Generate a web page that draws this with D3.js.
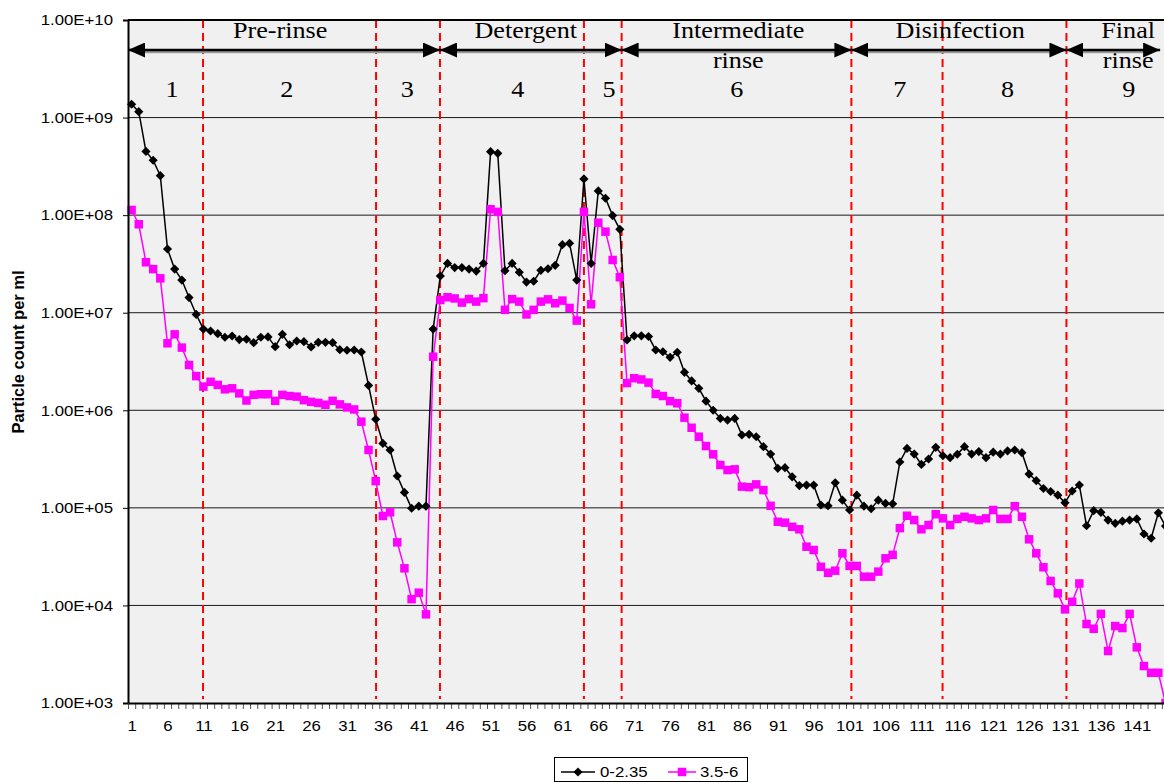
<!DOCTYPE html>
<html>
<head>
<meta charset="utf-8">
<script src="https://cdn.jsdelivr.net/npm/d3@7"></script>
<style>
  html, body { margin: 0; padding: 0; background: #ffffff; }
  svg { display: block; }
</style>
</head>
<body>
<svg id="chart" width="1164" height="782"></svg>
<script>
// Particle counts per ml for each sample, two particle-size channels.
const fineCounts = [ // 0-2.35
  1.37e9, 1.15e9, 4.5e8, 3.65e8, 2.54e8, 4.5e7, 2.8e7, 2.16e7, 1.43e7, 9.6e6,
  6.8e6, 6.5e6, 6.1e6, 5.6e6, 5.77e6, 5.3e6, 5.35e6, 4.93e6, 5.6e6, 5.65e6,
  4.49e6, 6.0e6, 4.7e6, 5.13e6, 5.05e6, 4.46e6, 4.97e6, 4.97e6, 4.93e6, 4.18e6,
  4.12e6, 4.15e6, 3.96e6, 1.8e6, 8.1e5, 4.58e5, 3.92e5, 2.12e5, 1.44e5, 9.9e4,
  1.04e5, 1.04e5, 6.8e6, 2.38e7, 3.2e7, 2.9e7, 2.9e7, 2.8e7, 2.67e7, 3.2e7,
  4.47e8, 4.3e8, 2.7e7, 3.2e7, 2.6e7, 2.06e7, 2.1e7, 2.72e7, 2.82e7, 3.06e7,
  4.98e7, 5.14e7, 2.16e7, 2.35e8, 3.2e7, 1.77e8, 1.49e8, 9.9e7, 7.16e7, 5.25e6,
  5.8e6, 5.8e6, 5.7e6, 4.15e6, 3.98e6, 3.49e6, 3.93e6, 2.45e6, 2.0e6, 1.68e6,
  1.24e6, 1.0e6, 8.26e5, 7.94e5, 8.26e5, 5.58e5, 5.67e5, 5.36e5, 4.24e5, 3.56e5,
  2.54e5, 2.58e5, 2.08e5, 1.69e5, 1.71e5, 1.71e5, 1.07e5, 1.05e5, 1.81e5, 1.2e5,
  9.5e4, 1.35e5, 1.04e5, 9.8e4, 1.2e5, 1.11e5, 1.1e5, 2.95e5, 4.07e5, 3.56e5,
  2.79e5, 3.17e5, 4.17e5, 3.42e5, 3.27e5, 3.54e5, 4.24e5, 3.56e5, 3.77e5, 3.27e5,
  3.72e5, 3.56e5, 3.83e5, 3.92e5, 3.68e5, 2.22e5, 1.9e5, 1.58e5, 1.47e5, 1.35e5,
  1.13e5, 1.49e5, 1.71e5, 6.56e4, 9.35e4, 9.0e4, 7.5e4, 6.94e4, 7.3e4, 7.5e4,
  7.7e4, 5.4e4, 4.88e4, 8.9e4, 6.5e4
];
const coarseCounts = [ // 3.5-6
  1.13e8, 8.06e7, 3.29e7, 2.8e7, 2.25e7, 4.86e6, 6.0e6, 4.39e6, 2.91e6, 2.24e6,
  1.75e6, 1.96e6, 1.82e6, 1.64e6, 1.68e6, 1.49e6, 1.26e6, 1.44e6, 1.46e6, 1.46e6,
  1.25e6, 1.44e6, 1.4e6, 1.38e6, 1.27e6, 1.22e6, 1.19e6, 1.14e6, 1.25e6, 1.15e6,
  1.07e6, 1.02e6, 7.64e5, 3.92e5, 1.88e5, 8.25e4, 9.0e4, 4.43e4, 2.4e4, 1.16e4,
  1.35e4, 8.1e3, 3.54e6, 1.35e7, 1.44e7, 1.4e7, 1.27e7, 1.38e7, 1.3e7, 1.41e7,
  1.15e8, 1.08e8, 1.07e7, 1.38e7, 1.3e7, 9.6e6, 1.07e7, 1.3e7, 1.37e7, 1.25e7,
  1.33e7, 1.12e7, 8.3e6, 1.08e8, 1.22e7, 8.37e7, 6.77e7, 3.47e7, 2.31e7, 1.9e6,
  2.13e6, 2.07e6, 1.92e6, 1.47e6, 1.4e6, 1.24e6, 1.18e6, 8.4e5, 6.62e5, 5.36e5,
  4.3e5, 3.54e5, 2.75e5, 2.44e5, 2.48e5, 1.65e5, 1.63e5, 1.74e5, 1.52e5, 1.05e5,
  7.2e4, 7.05e4, 6.4e4, 6.03e4, 4.0e4, 3.7e4, 2.49e4, 2.16e4, 2.27e4, 3.42e4,
  2.54e4, 2.54e4, 1.97e4, 1.97e4, 2.22e4, 3.04e4, 3.3e4, 6.2e4, 8.3e4, 7.5e4,
  6.03e4, 6.67e4, 8.6e4, 7.8e4, 6.67e4, 7.7e4, 8.1e4, 7.8e4, 7.5e4, 7.8e4,
  9.5e4, 7.7e4, 7.7e4, 1.04e5, 8.1e4, 4.76e4, 3.42e4, 2.46e4, 1.78e4, 1.33e4,
  9.1e3, 1.09e4, 1.68e4, 6.45e3, 5.77e3, 8.2e3, 3.41e3, 6.15e3, 5.86e3, 8.2e3,
  3.72e3, 2.39e3, 2.04e3, 2.04e3, 1.0e3
];
const seriesNames = ["0-2.35", "3.5-6"];

// Axis ticks
const yTickValues = [1e3, 1e4, 1e5, 1e6, 1e7, 1e8, 1e9, 1e10];
const xTickLabels = d3.range(1, 142, 5);

// Cleaning-cycle stages, positions given in sample numbers
const stageBoundaries = [10.95, 35.05, 43.95, 64.0, 69.25, 101.25, 113.95, 131.2];
const phaseNames = [["Pre-rinse"], ["Detergent"], ["Intermediate", "rinse"], ["Disinfection"], ["Final", "rinse"]];
const phaseSpans = [[0.5, 43.95], [43.95, 69.25], [69.25, 101.25], [101.25, 131.2], [131.2, 144.25]];
const phaseLabelAt = [21.7, 55.9, 85.5, 116.4, 139.8];
const stageNumbers = ["1", "2", "3", "4", "5", "6", "7", "8", "9"];
const stageNumberAt = [6.63, 22.6, 39.4, 54.8, 67.5, 85.3, 108.0, 123.0, 139.9];

// ---------------------------------------------------------------
const SANS = "'Liberation Sans', Arial, sans-serif";
const SERIF = "'Liberation Serif', 'Times New Roman', serif";
const W = 1164;
const plot = { left: 128, top: 20, bottom: 703, right: W };

const svg = d3.select("#chart");

const x = d3.scaleLinear()
  .domain([0.5, 0.5 + (plot.right - plot.left) / 7.18])
  .range([plot.left, plot.right]);
const y = d3.scaleLog().domain([1e3, 1e10]).range([plot.bottom, plot.top]);

// widen glyphs a little around their anchor point
function widen(sel, sx) {
  sel.attr("transform", function () {
    const ax = +(this.getAttribute("x") || 0);
    const ay = +(this.getAttribute("y") || 0);
    return `translate(${ax},${ay}) scale(${sx},1) translate(${-ax},${-ay})`;
  });
}

// plot area
svg.append("rect")
  .attr("x", plot.left).attr("y", plot.top)
  .attr("width", plot.right - plot.left).attr("height", plot.bottom - plot.top)
  .attr("fill", "#f0f0f0");

// horizontal gridlines
svg.append("g").selectAll("line")
  .data(yTickValues.slice(1, -1))
  .join("line")
  .attr("x1", plot.left).attr("x2", plot.right)
  .attr("y1", d => y(d)).attr("y2", d => y(d))
  .attr("stroke", "#1a1a1a").attr("stroke-width", 1);

// stage boundaries
svg.append("g").selectAll("line")
  .data(stageBoundaries)
  .join("line")
  .attr("x1", d => x(d)).attr("x2", d => x(d))
  .attr("y1", plot.top).attr("y2", plot.bottom - 4)
  .attr("stroke", "#ff0000").attr("stroke-width", 2)
  .attr("stroke-dasharray", "8,5");

// data
svg.append("clipPath").attr("id", "plotClip")
  .append("rect")
  .attr("x", plot.left - 1).attr("y", plot.top)
  .attr("width", plot.right - plot.left + 1).attr("height", plot.bottom - plot.top);

const dataLayer = svg.append("g").attr("clip-path", "url(#plotClip)");
const line = d3.line().x((d, i) => x(i + 1)).y(d => y(d));

const series = [
  { name: seriesNames[0], values: fineCounts, color: "#000000", symbol: d3.symbolSquare, size: 42, rotate: 45 },
  { name: seriesNames[1], values: coarseCounts, color: "#ff00ff", symbol: d3.symbolSquare, size: 72, rotate: 0 }
];

series.forEach(s => {
  dataLayer.append("path")
    .datum(s.values)
    .attr("d", line)
    .attr("fill", "none")
    .attr("stroke", s.color)
    .attr("stroke-width", 1.5);
});
series.forEach(s => {
  const shape = d3.symbol().type(s.symbol).size(s.size)();
  dataLayer.append("g").selectAll("path")
    .data(s.values)
    .join("path")
    .attr("d", shape)
    .attr("transform", (d, i) => `translate(${x(i + 1)},${y(d)}) rotate(${s.rotate})`)
    .attr("fill", s.color);
});

// frame line along the top
svg.append("line").attr("x1", plot.left).attr("x2", plot.right)
  .attr("y1", plot.top).attr("y2", plot.top)
  .attr("stroke", "#000").attr("stroke-width", 2);

// y axis
const yAxis = svg.append("g")
  .attr("transform", `translate(${plot.left},0)`)
  .call(d3.axisLeft(y)
    .tickValues(yTickValues)
    .tickSize(5)
    .tickPadding(10)
    .tickFormat(d => "1.00E+" + String(Math.round(Math.log10(d))).padStart(2, "0")));
yAxis.select(".domain").attr("stroke", "#000").attr("stroke-width", 2);
yAxis.selectAll(".tick line").attr("stroke", "#000");
yAxis.selectAll("text")
  .attr("font-family", SANS).attr("font-size", 15).attr("fill", "#000")
  .call(widen, 1.12);

// x axis: minor ticks at sample boundaries
const xMinor = svg.append("g")
  .attr("transform", `translate(0,${plot.bottom})`)
  .call(d3.axisBottom(x)
    .tickValues(d3.range(0.5, 145, 1))
    .tickSize(6)
    .tickFormat(""));
xMinor.select(".domain").remove();
xMinor.selectAll(".tick line").attr("stroke", "#555");

// x axis: labels every fifth sample
const xAxis = svg.append("g")
  .attr("transform", `translate(0,${plot.bottom})`)
  .call(d3.axisBottom(x)
    .tickValues(xTickLabels)
    .tickSize(0)
    .tickPadding(17)
    .tickFormat(d3.format("d")));
xAxis.select(".domain")
  .attr("stroke", "#000").attr("stroke-width", 2);
xAxis.selectAll("text")
  .attr("font-family", SANS).attr("font-size", 15).attr("fill", "#000")
  .call(widen, 1.12);

// y axis title
svg.append("text")
  .attr("transform", `translate(24,352) rotate(-90)`)
  .attr("text-anchor", "middle")
  .attr("font-family", SANS).attr("font-weight", "bold").attr("font-size", 16.5)
  .text("Particle count per ml");

// phase arrows
const defs = svg.append("defs");
defs.append("marker")
  .attr("id", "head")
  .attr("viewBox", "0 0 17 15")
  .attr("refX", 17).attr("refY", 7.5)
  .attr("markerWidth", 17).attr("markerHeight", 15)
  .attr("markerUnits", "userSpaceOnUse")
  .attr("orient", "auto-start-reverse")
  .append("path").attr("d", "M0,0 L17,7.5 L0,15 Z").attr("fill", "#000");

const arrowY = 50;
const arrows = svg.append("g");
arrows.selectAll("line.shadow")
  .data(phaseSpans)
  .join("line")
  .attr("class", "shadow")
  .attr("x1", d => x(d[0]) + 8).attr("x2", d => x(d[1]) - 8)
  .attr("y1", arrowY + 2).attr("y2", arrowY + 2)
  .attr("stroke", "#9a9a9a").attr("stroke-width", 2.5);
arrows.selectAll("line.shaft")
  .data(phaseSpans)
  .join("line")
  .attr("class", "shaft")
  .attr("x1", d => x(d[0])).attr("x2", d => x(d[1]))
  .attr("y1", arrowY).attr("y2", arrowY)
  .attr("stroke", "#000").attr("stroke-width", 2.5)
  .attr("marker-start", "url(#head)")
  .attr("marker-end", "url(#head)");

// phase names
const phaseText = svg.append("g").selectAll("text")
  .data(phaseNames)
  .join("text")
  .attr("font-family", SERIF).attr("font-size", 24).attr("fill", "#000")
  .attr("text-anchor", "middle")
  .attr("x", (d, i) => x(phaseLabelAt[i]))
  .attr("y", 38);
phaseText.selectAll("tspan")
  .data(d => d)
  .join("tspan")
  .attr("x", function () { return this.parentNode.getAttribute("x"); })
  .attr("dy", (d, i) => i === 0 ? 0 : 30)
  .text(d => d);
phaseText.call(widen, 1.09);

// stage numbers
svg.append("g").selectAll("text")
  .data(stageNumbers)
  .join("text")
  .attr("font-family", SERIF).attr("font-size", 24).attr("fill", "#000")
  .attr("text-anchor", "middle")
  .attr("x", (d, i) => x(stageNumberAt[i]))
  .attr("y", 97)
  .text(d => d)
  .call(widen, 1.09);

// legend
const legend = svg.append("g");
legend.append("rect")
  .attr("x", 554.5).attr("y", 757.5).attr("width", 193).attr("height", 24)
  .attr("fill", "#fff").attr("stroke", "#000").attr("stroke-width", 1);
const legendItems = [
  { x0: 561, x1: 595, tx: 600 },
  { x0: 668, x1: 696, tx: 700 }
];
series.forEach((s, i) => {
  const it = legendItems[i];
  const ly = 772;
  legend.append("line")
    .attr("x1", it.x0).attr("x2", it.x1).attr("y1", ly).attr("y2", ly)
    .attr("stroke", s.color).attr("stroke-width", 1.5);
  legend.append("path")
    .attr("d", d3.symbol().type(s.symbol).size(s.size)())
    .attr("transform", `translate(${(it.x0 + it.x1) / 2},${ly}) rotate(${s.rotate})`)
    .attr("fill", s.color);
  legend.append("text")
    .attr("x", it.tx).attr("y", ly + 5.5)
    .attr("font-family", SANS).attr("font-size", 15).attr("fill", "#000")
    .text(s.name)
    .call(widen, 1.12);
});
</script>
</body>
</html>
